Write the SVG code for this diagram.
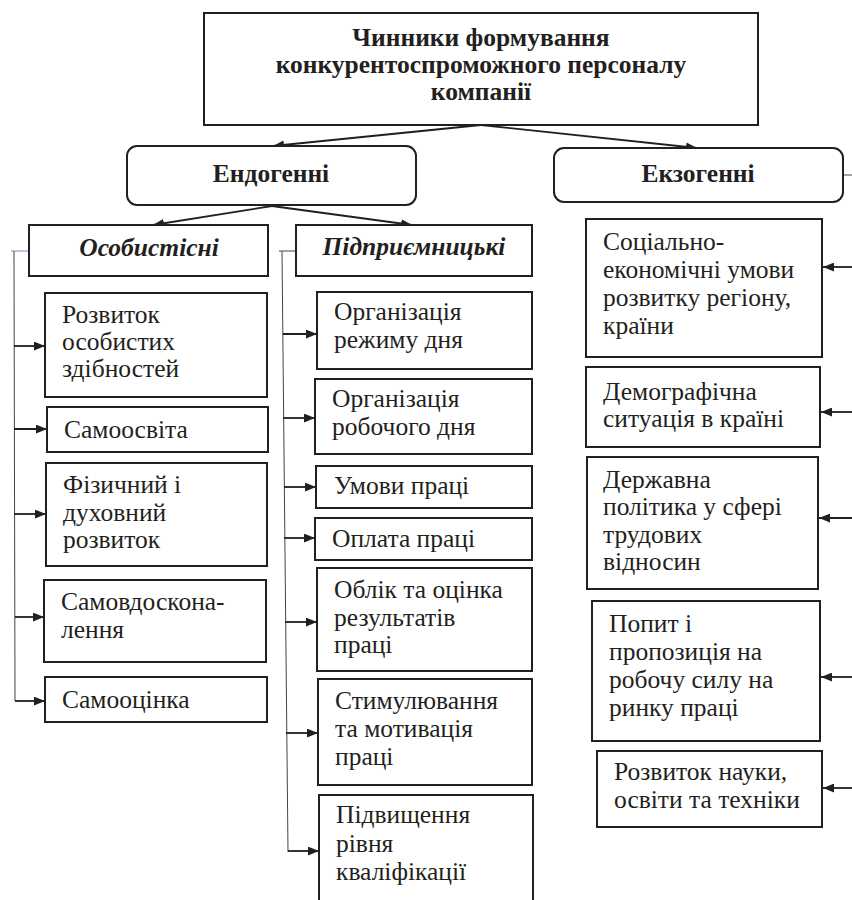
<svg xmlns="http://www.w3.org/2000/svg" width="852" height="900" viewBox="0 0 852 900">
<defs>
<marker id="ah" viewBox="0 0 10 8" refX="10" refY="4" markerWidth="11" markerHeight="9" markerUnits="userSpaceOnUse" orient="auto">
<path d="M0,0 L10,4 L0,8 Z" fill="#231f20"/>
</marker>
</defs>
<style>
.box{fill:#fff;stroke:#231f20;stroke-width:2}
.t{font-family:"Liberation Serif","DejaVu Serif","Times New Roman",serif;font-size:25.5px;fill:#231f20}
.b{font-family:"Liberation Serif","DejaVu Serif","Times New Roman",serif;font-size:25.5px;font-weight:bold;fill:#231f20}
.bi{font-family:"Liberation Serif","DejaVu Serif","Times New Roman",serif;font-size:25.5px;font-weight:bold;font-style:italic;fill:#231f20}
.c{stroke:#231f20;stroke-width:1.8;fill:none}
.br{stroke:#444;stroke-width:1;fill:none}
</style>
<rect width="852" height="900" fill="#fff"/>

<g id="connectors">
<line class="c" x1="481" y1="125" x2="273" y2="146" marker-end="url(#ah)"/>
<line class="c" x1="481" y1="125" x2="697" y2="148" marker-end="url(#ah)"/>
<line class="c" x1="272" y1="206" x2="153" y2="225" marker-end="url(#ah)"/>
<line class="c" x1="272" y1="206" x2="412" y2="225" marker-end="url(#ah)"/>
<line x1="843" y1="175" x2="852" y2="175" class="br"/>
<line x1="11" y1="251" x2="29" y2="251" stroke="#6d8fd8" stroke-width="1"/>
<line x1="14" y1="251" x2="15" y2="701" class="br"/>
<line class="c" x1="14" y1="346" x2="45" y2="346" marker-end="url(#ah)"/>
<line class="c" x1="14" y1="429" x2="47" y2="429" marker-end="url(#ah)"/>
<line class="c" x1="14" y1="514" x2="46" y2="514" marker-end="url(#ah)"/>
<line class="c" x1="15" y1="617" x2="44" y2="617" marker-end="url(#ah)"/>
<line class="c" x1="15" y1="701" x2="45" y2="701" marker-end="url(#ah)"/>
<line x1="279" y1="251" x2="296" y2="251" class="br"/>
<line x1="282" y1="251" x2="288" y2="852" class="br"/>
<line class="c" x1="283" y1="334" x2="317" y2="334" marker-end="url(#ah)"/>
<line class="c" x1="283" y1="418" x2="315" y2="418" marker-end="url(#ah)"/>
<line class="c" x1="284" y1="487" x2="316" y2="487" marker-end="url(#ah)"/>
<line class="c" x1="284" y1="538" x2="315" y2="538" marker-end="url(#ah)"/>
<line class="c" x1="285" y1="622" x2="317" y2="622" marker-end="url(#ah)"/>
<line class="c" x1="286" y1="733" x2="318" y2="733" marker-end="url(#ah)"/>
<line class="c" x1="288" y1="851" x2="319" y2="851" marker-end="url(#ah)"/>
<line class="c" x1="852" y1="267" x2="823" y2="267" marker-end="url(#ah)"/>
<line class="c" x1="852" y1="412" x2="821" y2="412" marker-end="url(#ah)"/>
<line class="c" x1="852" y1="518" x2="819" y2="518" marker-end="url(#ah)"/>
<line class="c" x1="852" y1="677" x2="821" y2="677" marker-end="url(#ah)"/>
<line class="c" x1="852" y1="788" x2="823" y2="788" marker-end="url(#ah)"/>
</g>

<g id="root">
<rect class="box" x="204" y="13" width="554" height="112"/>
<text class="b" text-anchor="middle" x="481" y="46">Чинники формування</text>
<text class="b" text-anchor="middle" x="481" y="73">конкурентоспроможного персоналу</text>
<text class="b" text-anchor="middle" x="481" y="100">компанії</text>
</g>

<g id="endo">
<rect class="box" x="127" y="146" width="289" height="59" rx="10"/>
<text class="b" text-anchor="middle" x="271" y="182">Ендогенні</text>
</g>
<g id="exo">
<rect class="box" x="554" y="148" width="289" height="54" rx="10"/>
<text class="b" text-anchor="middle" x="698" y="182">Екзогенні</text>
</g>

<g id="personal">
<rect class="box" x="29" y="225" width="239" height="51"/>
<text class="bi" text-anchor="middle" x="149" y="256">Особистісні</text>
</g>
<g id="enterprise">
<rect class="box" x="296" y="225" width="236" height="51"/>
<text class="bi" text-anchor="middle" x="414" y="255">Підприємницькі</text>
</g>

<g id="p1">
<rect class="box" x="45" y="293" width="222" height="104"/>
<text class="t" x="62" y="323">Розвиток</text>
<text class="t" x="62" y="350">особистих</text>
<text class="t" x="62" y="377">здібностей</text>
</g>
<g id="p2">
<rect class="box" x="47" y="407" width="221" height="45"/>
<text class="t" x="64" y="438">Самоосвіта</text>
</g>
<g id="p3">
<rect class="box" x="46" y="463" width="221" height="103"/>
<text class="t" x="63" y="493">Фізичний і</text>
<text class="t" x="63" y="521">духовний</text>
<text class="t" x="63" y="548">розвиток</text>
</g>
<g id="p4">
<rect class="box" x="44" y="580" width="222" height="82"/>
<text class="t" x="61" y="610">Самовдоскона-</text>
<text class="t" x="61" y="638">лення</text>
</g>
<g id="p5">
<rect class="box" x="45" y="677" width="222" height="45"/>
<text class="t" x="62" y="708">Самооцінка</text>
</g>

<g id="e1">
<rect class="box" x="317" y="292" width="215" height="77"/>
<text class="t" x="334" y="320">Організація</text>
<text class="t" x="334" y="348">режиму дня</text>
</g>
<g id="e2">
<rect class="box" x="315" y="379" width="217" height="75"/>
<text class="t" x="332" y="407">Організація</text>
<text class="t" x="332" y="435">робочого дня</text>
</g>
<g id="e3">
<rect class="box" x="316" y="466" width="216" height="42"/>
<text class="t" x="334" y="494">Умови праці</text>
</g>
<g id="e4">
<rect class="box" x="315" y="518" width="217" height="42"/>
<text class="t" x="332" y="547">Оплата праці</text>
</g>
<g id="e5">
<rect class="box" x="317" y="568" width="215" height="103"/>
<text class="t" x="334" y="598">Облік та оцінка</text>
<text class="t" x="334" y="626">результатів</text>
<text class="t" x="334" y="653">праці</text>
</g>
<g id="e6">
<rect class="box" x="318" y="679" width="214" height="106"/>
<text class="t" x="335" y="709">Стимулювання</text>
<text class="t" x="335" y="737">та мотивація</text>
<text class="t" x="335" y="765">праці</text>
</g>
<g id="e7">
<rect class="box" x="319" y="795" width="214" height="120"/>
<text class="t" x="336" y="823">Підвищення</text>
<text class="t" x="336" y="852">рівня</text>
<text class="t" x="336" y="880">кваліфікації</text>
</g>

<g id="x1">
<rect class="box" x="586" y="219" width="236" height="138"/>
<text class="t" x="603" y="250">Соціально-</text>
<text class="t" x="603" y="278">економічні умови</text>
<text class="t" x="603" y="306">розвитку регіону,</text>
<text class="t" x="603" y="334">країни</text>
</g>
<g id="x2">
<rect class="box" x="586" y="367" width="234" height="80"/>
<text class="t" x="603" y="400">Демографічна</text>
<text class="t" x="603" y="427">ситуація в країні</text>
</g>
<g id="x3">
<rect class="box" x="587" y="457" width="231" height="132"/>
<text class="t" x="603" y="488">Державна</text>
<text class="t" x="603" y="515">політика у сфері</text>
<text class="t" x="603" y="543">трудових</text>
<text class="t" x="603" y="570">відносин</text>
</g>
<g id="x4">
<rect class="box" x="592" y="601" width="228" height="140"/>
<text class="t" x="609" y="632">Попит і</text>
<text class="t" x="609" y="660">пропозиція на</text>
<text class="t" x="609" y="688">робочу силу на</text>
<text class="t" x="609" y="716">ринку праці</text>
</g>
<g id="x5">
<rect class="box" x="597" y="751" width="225" height="76"/>
<text class="t" x="614" y="780">Розвиток науки,</text>
<text class="t" x="614" y="808">освіти та техніки</text>
</g>
</svg>
